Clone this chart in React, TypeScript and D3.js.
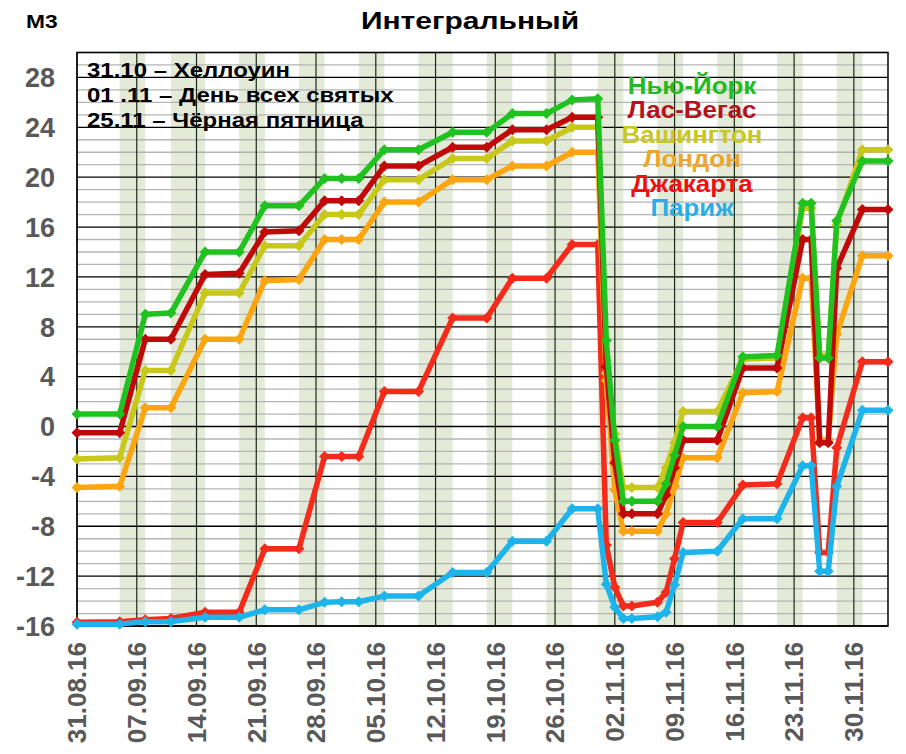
import React from 'react';
import * as d3 from 'd3';

// даты замеров
const dates = [
  '31.08.16', '05.09.16', '08.09.16', '11.09.16', '15.09.16', '19.09.16', '22.09.16', '26.09.16',
  '29.09.16', '01.10.16', '03.10.16', '06.10.16', '10.10.16', '14.10.16', '18.10.16', '21.10.16',
  '25.10.16', '28.10.16', '31.10.16', '01.11.16', '02.11.16', '03.11.16', '04.11.16', '07.11.16',
  '08.11.16', '09.11.16', '10.11.16', '14.11.16', '17.11.16', '21.11.16', '24.11.16', '25.11.16',
  '26.11.16', '27.11.16', '28.11.16', '01.12.16', '04.12.16'
];

const newYork = [
  1.0, 1.0, 9.0, 9.1, 14.0, 14.0, 17.7, 17.7, 19.9, 19.9, 19.9, 22.2, 22.2, 23.6, 23.6, 25.1,
  25.1, 26.2, 26.3, 6.9, -1.1, -6.0, -6.0, -6.0, -4.6, -2.3, 0.0, 0.0, 5.6, 5.7, 17.9, 17.9,
  5.5, 5.5, 16.5, 21.3, 21.3
];
const lasVegas = [
  -0.5, -0.5, 7.0, 7.0, 12.2, 12.3, 15.6, 15.7, 18.1, 18.1, 18.1, 20.9, 20.9, 22.4, 22.4, 23.8,
  23.8, 24.8, 24.8, 4.8, -2.9, -7.0, -7.0, -7.0, -5.5, -3.3, -1.1, -1.1, 4.7, 4.7, 15.0, 15.0,
  -1.3, -1.3, 12.7, 17.4, 17.4
];
const washington = [
  -2.6, -2.5, 4.5, 4.5, 10.7, 10.7, 14.5, 14.5, 17.0, 17.0, 17.0, 19.8, 19.8, 21.5, 21.5, 22.9,
  22.9, 24.0, 24.0, 4.3, -0.6, -4.9, -4.9, -4.9, -3.3, -1.3, 1.2, 1.2, 5.4, 5.5, 17.5, 17.5,
  5.7, 5.7, 16.2, 22.2, 22.2
];
const london = [
  -4.9, -4.8, 1.5, 1.5, 7.0, 7.0, 11.7, 11.8, 15.0, 15.0, 15.0, 18.0, 18.0, 19.8, 19.8, 20.9,
  20.9, 22.0, 22.0, 3.7, -5.1, -8.4, -8.4, -8.4, -7.0, -4.8, -2.5, -2.5, 2.7, 2.8, 11.9, 11.9,
  -1.1, -1.1, 7.4, 13.7, 13.7
];
const jakarta = [
  -15.7, -15.65, -15.5, -15.4, -14.9, -14.9, -9.8, -9.8, -2.4, -2.4, -2.4, 2.8, 2.8, 8.7, 8.7, 11.9,
  11.9, 14.6, 14.6, -9.5, -12.9, -14.4, -14.4, -14.1, -13.3, -10.6, -7.7, -7.7, -4.7, -4.6, 0.7, 0.7,
  -10.1, -10.1, -1.7, 5.2, 5.2
];
const paris = [
  -15.85, -15.85, -15.65, -15.65, -15.3, -15.3, -14.7, -14.7, -14.1, -14.05, -14.05, -13.6, -13.6, -11.7, -11.7, -9.2,
  -9.2, -6.6, -6.6, -12.65, -14.5, -15.4, -15.4, -15.25, -14.9, -12.7, -10.1, -10.0, -7.4, -7.4, -3.15, -3.15,
  -11.6, -11.6, -4.8, 1.3, 1.3
];

const seriesNames = ['Нью-Йорк', 'Лас-Вегас', 'Вашингтон', 'Лондон', 'Джакарта', 'Париж'];
const lineColors = ['#1fc21f', '#c00a0a', '#c8c81a', '#fba510', '#f42a1a', '#1db4ec'];
const legendColors = ['#22bb22', '#b5121b', '#c8c81e', '#eda52a', '#ee1111', '#2aaee6'];

// серые полосы
const stripeFrom = [
  '05.09.16', '11.09.16', '19.09.16', '26.09.16', '03.10.16', '10.10.16', '18.10.16',
  '25.10.16', '31.10.16', '07.11.16', '14.11.16', '21.11.16', '28.11.16'
];
const stripeTo = [
  '08.09.16', '15.09.16', '22.09.16', '29.09.16', '06.10.16', '14.10.16', '21.10.16',
  '28.10.16', '03.11.16', '10.11.16', '17.11.16', '24.11.16', '01.12.16'
];

const xTickLabels = [
  '31.08.16', '07.09.16', '14.09.16', '21.09.16', '28.09.16', '05.10.16', '12.10.16',
  '19.10.16', '26.10.16', '02.11.16', '09.11.16', '16.11.16', '23.11.16', '30.11.16'
];
const yTickValues = [-16, -12, -8, -4, 0, 4, 8, 12, 16, 20, 24, 28];

const notes = ['31.10 – Хеллоуин', '01 .11 – День всех святых', '25.11 – Чёрная пятница'];

const FONT = '"Liberation Sans", Arial, sans-serif';

export default function App(): JSX.Element {
  const width = 906;
  const height = 754;
  const plot = { left: 77, right: 888, top: 52.5, bottom: 626 };

  const parse = d3.utcParse('%d.%m.%y');
  const x = d3
    .scaleUtc()
    .domain([parse('31.08.16') as Date, parse('04.12.16') as Date])
    .range([plot.left, plot.right]);
  const y = d3.scaleLinear().domain([-16, 30]).range([plot.bottom, plot.top]);

  const xDates = dates.map((d) => parse(d) as Date);
  const allSeries = [newYork, lasVegas, washington, london, jakarta, paris];
  // порядок отрисовки: нижние сначала
  const drawOrder = [4, 5, 3, 2, 1, 0];

  const line = d3
    .line<number>()
    .x((_, i) => x(xDates[i]))
    .y((v) => y(v));

  const minorTicks = d3.range(-16, 31, 1).filter((v) => v % 4 !== 0);
  const majorTicks = d3.range(-16, 31, 4);
  const weekTicks = xTickLabels.map((t) => parse(t) as Date);

  const diamond = 'M0,-5.5L5.5,0L0,5.5L-5.5,0Z';

  return (
    <div style={{ position: 'absolute', left: 0, top: 0 }}>
      <svg width={width} height={height} style={{ display: 'block', background: '#fff' }}>
        {/* полосы */}
        {stripeFrom.map((s, i) => {
          const x0 = x(parse(s) as Date);
          const x1 = x(parse(stripeTo[i]) as Date);
          return (
            <rect key={'st' + i} x={x0} y={plot.top} width={x1 - x0} height={plot.bottom - plot.top} fill="#e3ead7" />
          );
        })}
        {/* сетка */}
        {minorTicks.map((v) => (
          <line key={'mn' + v} x1={plot.left} x2={plot.right} y1={y(v)} y2={y(v)} stroke="#b4b4b4" strokeWidth={1.3} />
        ))}
        {majorTicks.map((v) => (
          <line key={'mj' + v} x1={plot.left} x2={plot.right} y1={y(v)} y2={y(v)} stroke="#000" strokeWidth={1.3} />
        ))}
        {weekTicks.map((d, i) => (
          <line key={'vt' + i} x1={x(d)} x2={x(d)} y1={plot.top} y2={plot.bottom} stroke="#1a2a1a" strokeWidth={1.2} />
        ))}
        <rect
          x={plot.left}
          y={plot.top}
          width={plot.right - plot.left}
          height={plot.bottom - plot.top}
          fill="none"
          stroke="#000"
          strokeWidth={1.5}
        />

        {/* линии */}
        {drawOrder.map((si) => (
          <g key={'s' + si}>
            <path
              d={line(allSeries[si]) as string}
              fill="none"
              stroke={lineColors[si]}
              strokeWidth={5.5}
              strokeLinejoin="round"
            />
            {allSeries[si].map((v, i) => (
              <path key={i} d={diamond} transform={`translate(${x(xDates[i])},${y(v)})`} fill={lineColors[si]} />
            ))}
          </g>
        ))}

        {/* ось Y */}
        {yTickValues.map((v) => (
          <text
            key={'yl' + v}
            x={55}
            y={y(v)}
            dy="0.36em"
            textAnchor="end"
            fontFamily={FONT}
            fontWeight="bold"
            fontSize={27}
            fill="#595959"
          >
            {v}
          </text>
        ))}
        {/* ось X */}
        {xTickLabels.map((t) => {
          const px = x(parse(t) as Date);
          return (
            <text
              key={'xl' + t}
              transform={`translate(${px},642) rotate(-90)`}
              dy="0.36em"
              textAnchor="end"
              fontFamily={FONT}
              fontWeight="bold"
              fontSize={26}
              fill="#595959"
            >
              {t}
            </text>
          );
        })}

        <g transform="translate(26,28) scale(1.2,1)">
          <text fontFamily={FONT} fontWeight="bold" fontSize={19} fill="#000">
            М3
          </text>
        </g>
        <g transform="translate(470,29) scale(1.25,1)">
          <text textAnchor="middle" fontFamily={FONT} fontWeight="bold" fontSize={24} fill="#000">
            Интегральный
          </text>
        </g>

        {notes.map((n, i) => (
          <g key={'n' + i} transform={`translate(87,${77 + i * 25}) scale(1.2,1)`}>
            <text fontFamily={FONT} fontWeight="bold" fontSize={20} fill="#000">
              {n}
            </text>
          </g>
        ))}

        {seriesNames.map((n, i) => (
          <g key={'lg' + i} transform={`translate(692,${94 + i * 24.4}) scale(1.08,1)`}>
            <text textAnchor="middle" fontFamily={FONT} fontWeight="bold" fontSize={24} fill={legendColors[i]}>
              {n}
            </text>
          </g>
        ))}
      </svg>
    </div>
  );
}
